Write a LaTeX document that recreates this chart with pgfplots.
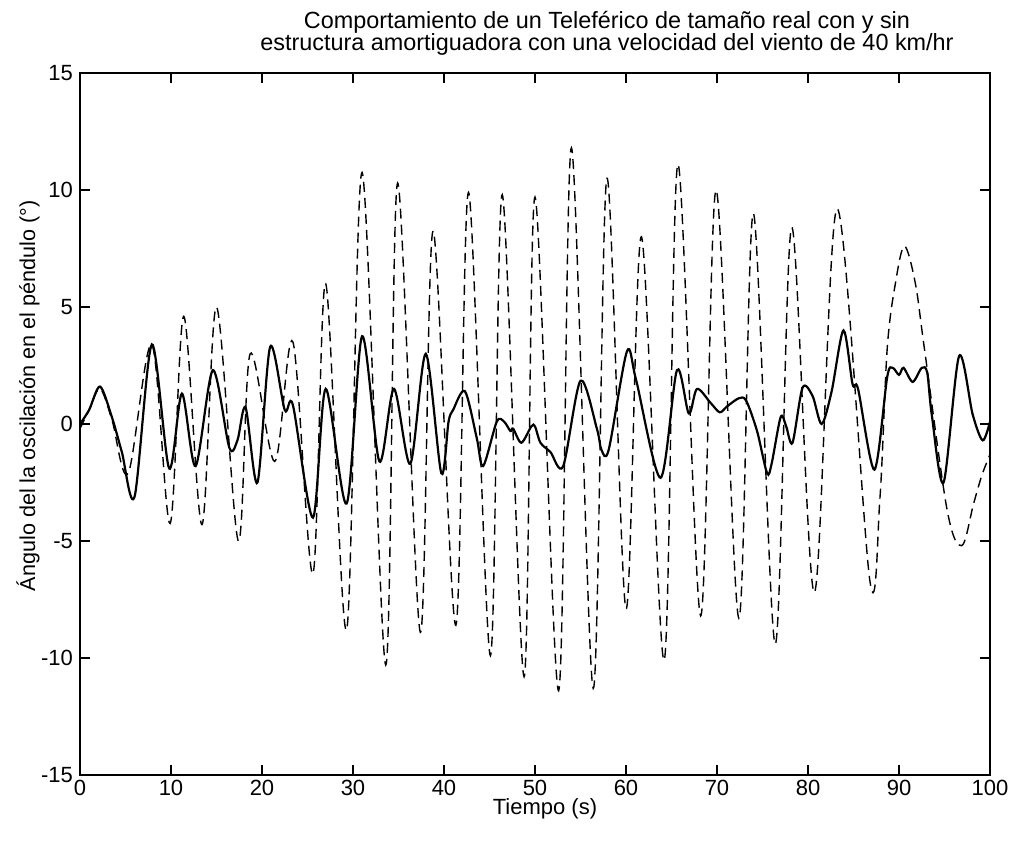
\documentclass[border=0pt]{standalone}
\usepackage{fontspec}
\setmainfont{Liberation Sans}
\usepackage{pgfplots}
\pgfplotsset{compat=1.18}
\begin{document}
\begin{tikzpicture}
\useasboundingbox (-40pt,-36pt) rectangle (471.5pt,387.5pt);
\begin{axis}[
  at={(0,0)}, anchor=south west,
  scale only axis, width=455pt, height=351pt,
  xmin=0, xmax=100, ymin=-15, ymax=15,
  xtick={0,10,...,100}, ytick={-15,-10,...,15},
  tick align=inside, major tick length=5pt,
  tick style={black, line width=0.6pt},
  axis line style={line width=0.8pt},
  tick label style={font=\fontsize{11}{12}\selectfont},
  xticklabel style={yshift=1pt},
  /pgf/number format/assume math mode=true,
  title={Comportamiento de un Teleférico de tamaño real con y sin\\estructura amortiguadora con una velocidad del viento de 40 km/hr},
  title style={font=\fontsize{11.7}{11}\selectfont, align=center, at={(0.5,1)}, anchor=south, inner sep=0pt, yshift=2.5pt, xshift=36pt},
  xlabel={Tiempo (s)},
  xlabel style={font=\fontsize{11}{12}\selectfont, at={(axis description cs:0.5,0)}, anchor=north, inner sep=0pt, xshift=5pt, yshift=-11.5pt},
  ylabel={Ángulo del la oscilación en el péndulo (°)},
  ylabel style={font=\fontsize{10.8}{12}\selectfont, at={(axis description cs:-0.057,0.54)}, anchor=center},
]
\addplot[black, line width=0.7pt, dash pattern=on 5pt off 3pt, smooth, tension=0.55] coordinates {
(0,-0.2)(1.0,0.6)(2.2,1.5)(3.5,0.2)(5.3,-2.1)(7.9,3.4)(9.9,-4.25)(11.4,4.6)(13.4,-4.3)(15.0,5.0)(17.4,-5.0)(18.7,3.0)(21.4,-1.6)(23.4,3.5)(25.6,-6.4)(27.0,6.0)(29.3,-8.8)(31.0,10.75)(33.6,-10.3)(34.9,10.3)(37.4,-8.9)(38.8,8.25)(41.3,-8.6)(42.7,9.9)(45.1,-9.9)(46.4,9.8)(48.8,-10.8)(50.0,9.7)(52.6,-11.4)(54.0,11.8)(56.4,-11.3)(57.9,10.5)(60.0,-7.9)(61.7,8.0)(64.2,-10.1)(65.7,11.1)(68.2,-8.2)(69.9,10.0)(72.4,-8.3)(74.0,9.0)(76.4,-9.4)(78.2,8.4)(80.7,-7.2)(83.2,9.2)(86.8,-6.7)(87.9,-3.2)(88.7,3.2)(89.6,6.0)(90.6,7.6)(91.8,6.0)(92.8,3.2)(95.3,-3.7)(96.9,-5.2)(98.2,-3.4)(99.1,-2.2)(100,-1.3)
};
\addplot[black, line width=1.1pt, smooth, tension=0.5] coordinates {
(0,0)(1.0,0.6)(2.2,1.6)(3.5,0.3)(4.6,-1.2)(6.0,-3.1)(7.9,3.4)(9.8,-1.9)(11.2,1.3)(12.7,-1.8)(14.6,2.3)(16.4,-1.0)(17.3,-0.7)(18.2,0.7)(19.5,-2.5)(20.9,3.3)(22.5,0.6)(23.4,0.8)(25.6,-4.0)(27.0,1.5)(29.3,-3.4)(31.0,3.75)(32.9,-1.6)(34.5,1.5)(36.3,-1.7)(38.0,3.0)(39.7,-2.1)(40.5,0.1)(41.0,0.6)(42.3,1.4)(43.6,-0.6)(44.3,-1.8)(45.8,0.1)(46.6,0.1)(47.3,-0.3)(47.6,-0.2)(48.5,-0.8)(49.6,-0.1)(50.0,-0.1)(50.6,-0.8)(51.7,-1.2)(53.1,-1.8)(55.0,1.85)(56.8,-0.2)(57.3,-1.1)(58.1,-1.1)(60.1,3.1)(61.1,1.9)(63.8,-2.3)(65.6,2.3)(66.9,0.45)(67.8,1.5)(69.3,0.9)(70.3,0.5)(71.1,0.75)(72.4,1.1)(73.2,1.0)(74.4,-0.3)(75.5,-2.1)(76.0,-1.7)(77.0,0.3)(77.6,-0.1)(78.3,-0.8)(79.4,1.55)(80.5,1.2)(81.5,0.0)(82.6,1.4)(83.9,4.0)(84.9,1.7)(85.5,1.5)(87.3,-1.95)(88.7,2.0)(89.3,2.4)(90.0,2.1)(90.5,2.4)(91.5,1.8)(92.5,2.4)(93.1,2.2)(93.6,0.4)(94.9,-2.5)(96.6,2.9)(98.1,0.4)(99.2,-0.7)(100,0.1)
};
\end{axis}
\end{tikzpicture}
\end{document}
